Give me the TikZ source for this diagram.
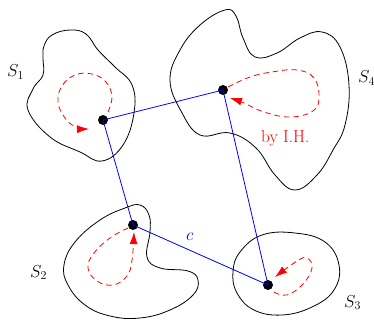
\documentclass[tikz,border=0pt]{standalone}
\usetikzlibrary{arrows.meta}
\begin{document}
\begin{tikzpicture}[x=1pt,y=-1pt,
  blob/.style={draw=black,line width=0.8pt},
  pt/.style={circle,fill=black,inner sep=0pt,minimum size=10pt},
  link/.style={draw=blue,line width=0.8pt},
  loop/.style={draw=red,line width=0.8pt,dash pattern=on 5.5pt off 4pt,-{Latex[length=12pt,width=8pt]}},
  lbl/.style={font=\LARGE,inner sep=0pt,anchor=base west}]
\useasboundingbox (0,0) rectangle (374,320);
% regions
\draw[blob] plot[smooth cycle,tension=0.7] coordinates {(44,46) (52,35) (70,30) (86,34) (98,50) (115,67) (132,85) (134,113) (123,145) (102,161) (80,152) (50,137) (28,110) (33,89) (43,75) (43,58)};
\draw[blob] plot[smooth cycle,tension=0.7] coordinates {(170,80) (181,111) (200,135) (230,133) (256,148) (275,175) (295,190) (317,175) (333,150) (345,125) (349,85) (340,47) (322,32) (300,38) (277,53) (255,57) (243,38) (236,16) (225,10) (200,25) (180,50)};
\draw[blob] plot[smooth cycle,tension=0.7] coordinates {(140,205) (149,215) (150,232) (147,257) (160,268) (188,271) (198,280) (193,295) (170,310) (140,318) (110,316) (85,305) (68,285) (64,265) (75,242) (100,220) (125,208)};
\draw[blob] plot[smooth cycle,tension=0.7] coordinates {(240,252) (262,235) (295,233) (325,242) (339,265) (334,290) (312,307) (282,315) (254,310) (237,293) (233,272)};
% labels
\node[lbl] (l1) at (7,77) {$S_1$};
\node[lbl] (l2) at (30,277) {$S_2$};
\node[lbl] (l3) at (344,307) {$S_3$};
\node[lbl] (l4) at (358,83) {$S_4$};
\node[lbl,text=red] (ih) at (261,143) {by I.H.};
% loops
\draw[loop] plot[smooth,tension=0.7] coordinates {(108,112) (112,97) (106,82) (92,74) (75,75) (62,86) (58,102) (65,118) (76,127) (89,129)};
\draw[loop] plot[smooth,tension=0.7] coordinates {(228,87) (250,77) (272,72) (297,70) (314,78) (319,97) (313,111) (290,117) (264,112) (244,103) (230,98)};
\draw[loop] plot[smooth,tension=0.7] coordinates {(128,228) (110,238) (94,253) (88,268) (97,281) (113,285) (127,276) (132,260) (134,232)};
\draw[loop] plot[smooth,tension=0.7] coordinates {(274,292) (287,295) (303,284) (312,268) (307,258) (297,261) (275,277)};
% points
\node[pt] (d1) at (103,120) {};
\node[pt] (d4) at (223,90) {};
\node[pt] (d2) at (133,225) {};
\node[pt] (d3) at (268,285) {};
\draw[link] (d1.center) -- (d4.center);
\draw[link] (d1.center) -- (d2.center);
\draw[link] (d2.center) -- (d3.center);
\draw[link] (d4.center) -- (d3.center);
\node[lbl,text=blue] (c) at (186,240) {$c$};
\end{tikzpicture}
\end{document}
